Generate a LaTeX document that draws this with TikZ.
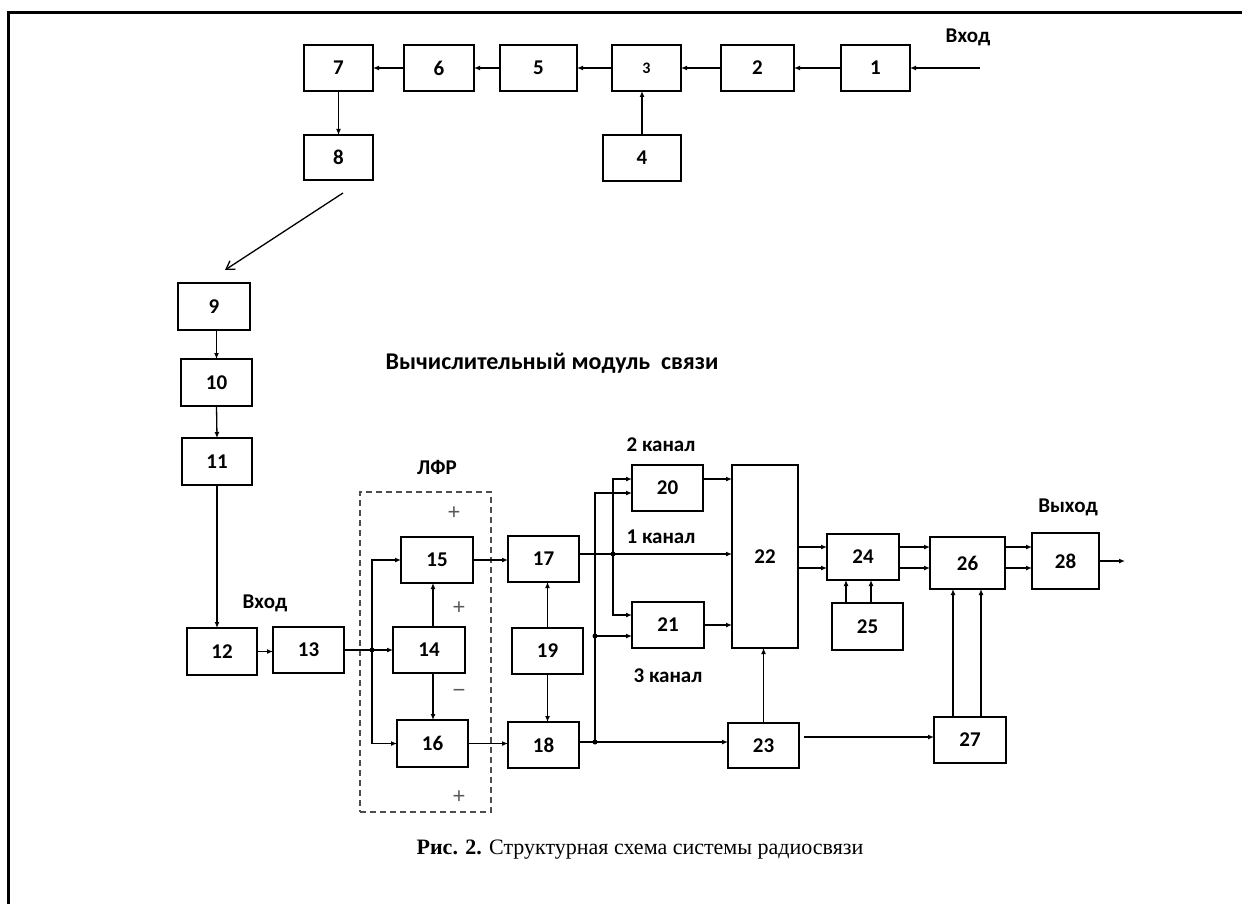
\documentclass[tikz,border=0pt]{standalone}
\usepackage{fontspec}
\setmainfont{Liberation Serif}
\newfontfamily\calib{Carlito}
\newfontfamily\lsans{Liberation Sans}
\usetikzlibrary{arrows.meta,calc}
\tikzset{
  blk/.style={draw, line width=2.2pt, inner sep=0pt, outer sep=0pt, font={\calib\bfseries\fontsize{21}{21}\selectfont}},
  arr/.style={line width=1.3pt, -{Latex[length=6pt,width=5pt]}},
  ln/.style={line width=1.3pt},
  lbl/.style={inner sep=0pt, font={\calib\bfseries\fontsize{21}{21}\selectfont}},
  sgn/.style={inner sep=0pt, text=black!65, font={\lsans\fontsize{22}{22}\selectfont}},
  dot/.style={circle, fill, inner sep=0pt, minimum size=5pt},
  lfrbox/.style={draw=black!70, dash pattern=on 6pt off 4pt, line width=1.8pt, inner sep=0pt},
}
\newcommand{\mkbox}[6]{\node[blk, minimum width={(#4)-(#2)}, minimum height={(#5)-(#3)}] (#1) at ({((#2)+(#4))/2},{((#3)+(#5))/2}) {#6};}
\begin{document}
\begin{tikzpicture}[x=1pt,y=-1pt]
\useasboundingbox (0,0) rectangle (1242,904);
% frame
\draw[line width=3pt] (8.5,904) -- (8.5,12.5) -- (1242,12.5);

% boxes
\mkbox{n1}{841}{45}{910}{91}{1}
\mkbox{n2}{721}{45}{794}{91}{2}
\mkbox{n3}{612}{45}{681}{91}{\fontsize{16}{16}\selectfont 3}
\mkbox{n5}{500}{45}{577}{91}{5}
\mkbox{n6}{404}{45}{474}{91}{6}
\mkbox{n7}{304}{45}{373}{91}{7}
\mkbox{n8}{304}{135}{373}{180}{8}
\mkbox{n4}{603}{135}{681}{181}{4}
\mkbox{n9}{178}{283}{250}{330}{9}
\mkbox{n10}{181}{359}{252}{406}{10}
\mkbox{n11}{182}{438}{252}{485}{11}
\mkbox{n12}{187}{628}{257}{675}{12}
\mkbox{n13}{273}{627}{344}{673}{13}
\mkbox{n14}{393}{627}{465}{673}{14}
\mkbox{n15}{401}{537}{473}{583}{15}
\mkbox{n16}{397}{720}{468}{767}{16}
\mkbox{n17}{508}{536}{579}{582}{17}
\mkbox{n19}{512}{628}{583}{674}{19}
\mkbox{n18}{508}{722}{579}{768}{18}
\mkbox{n20}{632}{465}{703}{511}{20}
\mkbox{n21}{632}{602}{704}{648}{21}
\mkbox{n22}{732}{465}{798}{648}{22}
\mkbox{n23}{728}{723}{799}{768}{23}
\mkbox{n24}{827}{534}{899}{580}{24}
\mkbox{n25}{832}{603}{903}{650}{25}
\mkbox{n26}{930}{537}{1005}{589}{26}
\mkbox{n27}{934}{717}{1006}{763}{27}
\mkbox{n28}{1032}{533}{1099}{589}{28}

% dashed LFR box
\node[lfrbox, minimum width=131, minimum height=320] (lfr) at (425.5,652) {};

% labels
\node[lbl] (tin) at (968,37) {Вход};
\node[lbl] (tin2) at (265,603) {Вход};
\node[lbl] (tlfr) at (437,467) {ЛФР};
\node[lbl, font={\calib\bfseries\fontsize{24}{24}\selectfont}] (tmod) at (552,363) {Вычислительный модуль\ \ связи};
\node[lbl] (tk2) at (661,445) {2 канал};
\node[lbl] (tk1) at (661,537) {1 канал};
\node[lbl] (tk3) at (668,676) {3 канал};
\node[lbl] (tout) at (1068,507) {Выход};
\node[inner sep=0pt, font={\fontsize{22}{22}\selectfont}] (cap) at (640,850) {\textbf{Рис. 2.} Структурная схема системы радиосвязи};
\node[sgn] (p1) at (454,513) {+};
\node[sgn] (p2) at (459,608) {+};
\node[sgn] (m1) at (459,693) {−};
\node[sgn] (p3) at (459,797) {+};

% coordinates
\coordinate (in1) at (980,68);
\coordinate (d1) at (343,193);
\coordinate (d2) at (225,270);
\coordinate (j1) at (372,650);
\coordinate (j2) at (613,554);
\coordinate (j3) at (595,742);
\coordinate (j4) at (595,636);
\coordinate (c20a) at (613,479);
\coordinate (c20b) at (595,493);
\coordinate (c21a) at (613,615);
\coordinate (c23) at (804,737);
\coordinate (ya) at (0,547);
\coordinate (yb) at (0,568);
\coordinate (xa) at (846,0);
\coordinate (xb) at (871,0);
\coordinate (xc) at (953,0);
\coordinate (xd) at (981,0);
\coordinate (x14) at (433,0);
\coordinate (out) at (1125,561);

% top chain
\draw[arr] (in1) -- (in1 -| n1.east);
\draw[arr] (n1.west) -- (n2.east);
\draw[arr] (n2.west) -- (n3.east);
\draw[arr] (n3.west) -- (n5.east);
\draw[arr] (n5.west) -- (n6.east);
\draw[arr] (n6.west) -- (n7.east);
\draw[arr] (n7.south) -- (n8.north);
\draw[arr] (n4.north) -- (n4.north |- n3.south);
\draw[line width=1.3pt, -{Straight Barb[length=8pt,width=10pt]}] (d1) -- (d2);

% left column
\draw[arr] (n10.north |- n9.south) -- (n10.north);
\draw[arr] (n10.south) -- (n11.north);
\draw[arr] (n11.south) -- (n11.south |- n12.north);
\draw[arr] (n12.east) -- (n12.east -| n13.west);

% LFR
\draw[ln] (n13.east |- j1) -- (j1);
\draw[arr] (j1) -- (n14.west |- j1);
\draw[arr] (j1) |- (n15.west);
\draw[arr] (j1) |- (n16.west);
\draw[arr] (x14 |- n14.north) -- (x14 |- n15.south);
\draw[arr] (x14 |- n14.south) -- (x14 |- n16.north);
\draw[arr] (n15.east) -- (n15.east -| n17.west);
\draw[arr] (n16.east) -- (n16.east -| n18.west);
\draw[arr] (n19.north) -- (n19.north |- n17.south);
\draw[arr] (n19.south) -- (n19.south |- n18.north);

% channels
\draw[ln] (n17.east |- j2) -- (j2);
\draw[arr] (j2) -- (n22.west |- j2);
\draw[arr] (j2) |- (n20.west |- c20a);
\draw[arr] (j2) |- (n21.west |- c21a);
\draw[ln] (n18.east |- j3) -- (j3);
\draw[arr] (j3) -- (n23.west |- j3);
\draw[arr] (j3) |- (n20.west |- c20b);
\draw[arr] (j4) -- (n21.west |- j4);
\draw[arr] (n20.east |- c20a) -- (n22.west |- c20a);
\draw[arr] (n21.east) -- (n21.east -| n22.west);
\draw[arr] (n23.north) -- (n23.north |- n22.south);
\draw[arr] (c23) -- (n27.west |- c23);

% right part
\draw[arr] (n22.east |- ya) -- (n24.west |- ya);
\draw[arr] (n22.east |- yb) -- (n24.west |- yb);
\draw[arr] (n24.east |- ya) -- (n26.west |- ya);
\draw[arr] (n24.east |- yb) -- (n26.west |- yb);
\draw[arr] (n26.east |- ya) -- (n28.west |- ya);
\draw[arr] (n26.east |- yb) -- (n28.west |- yb);
\draw[arr] (n28.east) -- (out);
\draw[arr] (xa |- n25.north) -- (xa |- n24.south);
\draw[arr] (xb |- n25.north) -- (xb |- n24.south);
\draw[arr] (xc |- n27.north) -- (xc |- n26.south);
\draw[arr] (xd |- n27.north) -- (xd |- n26.south);

% junction dots
\node[dot] at (j1) {};
\node[dot] at (j2) {};
\node[dot] at (j3) {};
\node[dot] at (j4) {};
\end{tikzpicture}
\end{document}
